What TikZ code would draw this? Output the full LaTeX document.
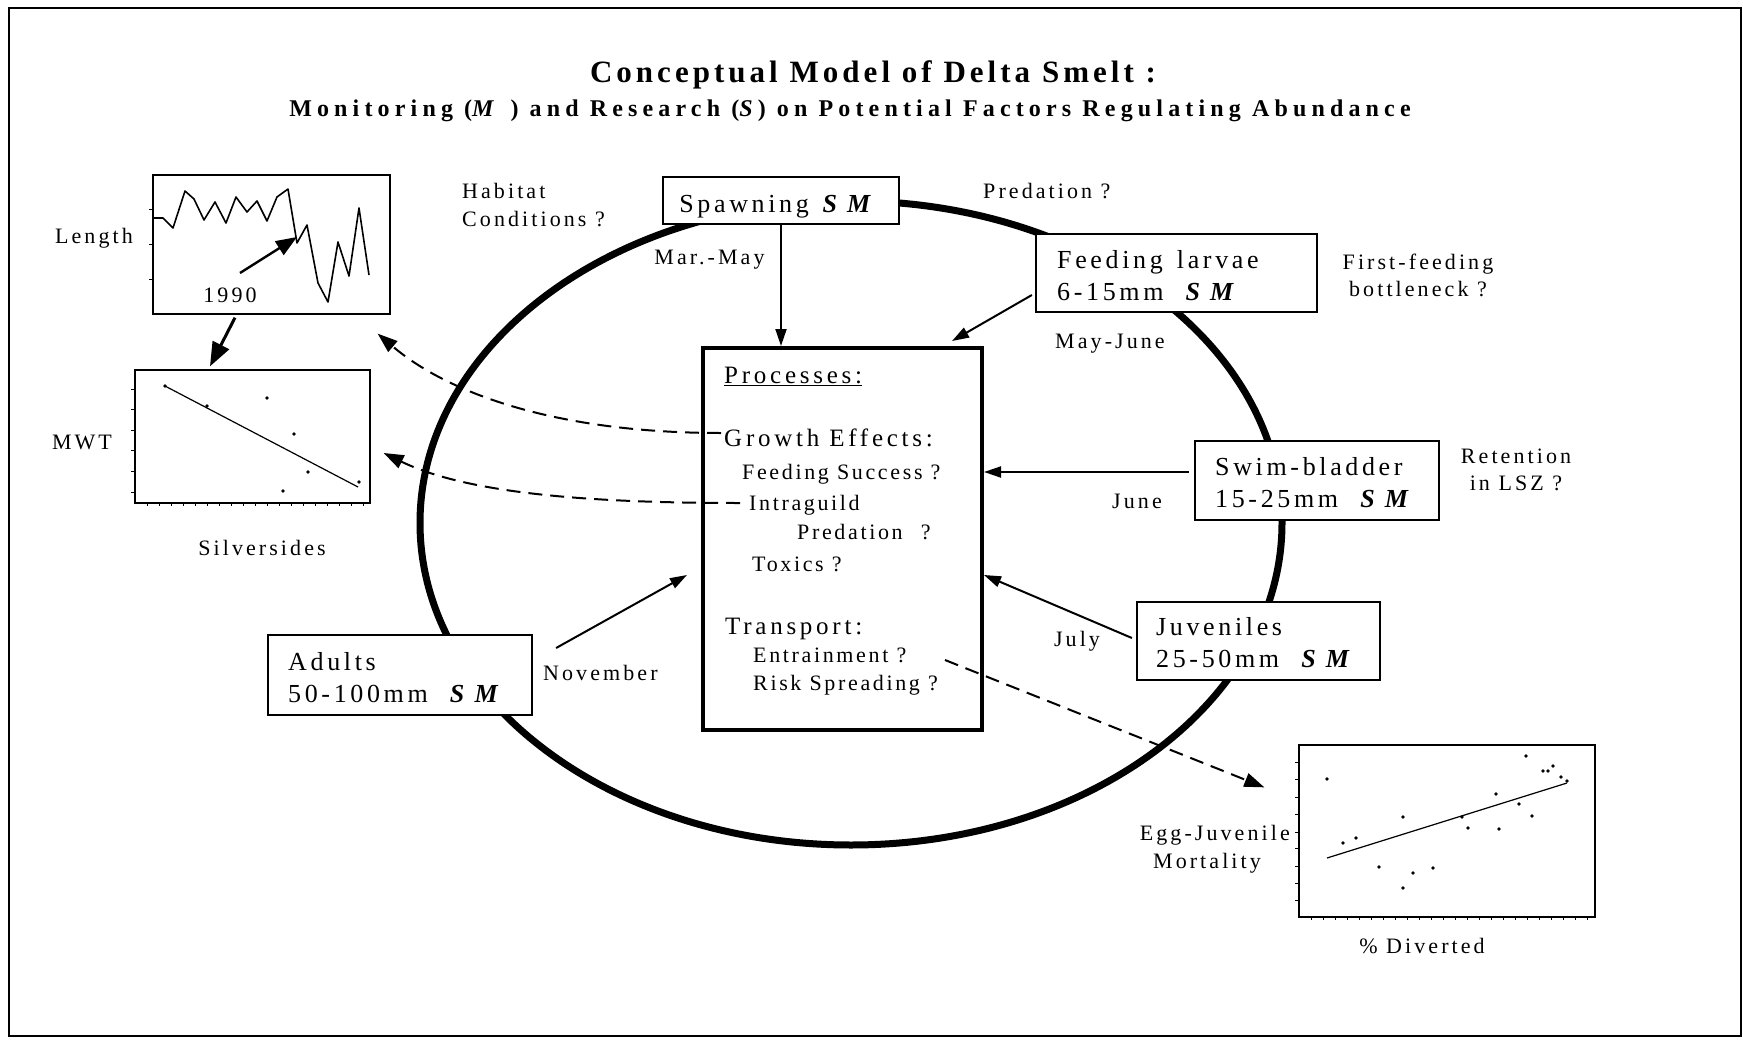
\documentclass[tikz,border=0pt]{standalone}
\usepackage{fontspec}
\setmainfont{Liberation Serif}[Ligatures=NoCommon]
\newfontfamily\fntLab{Liberation Serif}[LetterSpace=14,Ligatures=NoCommon]
\newfontfamily\fntBx{Liberation Serif}[LetterSpace=14,Ligatures=NoCommon]
\newfontfamily\fntHd{Liberation Serif}[LetterSpace=15,Ligatures=NoCommon]
\newfontfamily\fntIt{Liberation Serif}[LetterSpace=12,Ligatures=NoCommon]
\newfontfamily\fntTi{Liberation Serif}[LetterSpace=13,Ligatures=NoCommon]
\newfontfamily\fntSu{Liberation Serif}[LetterSpace=21.5,Ligatures=NoCommon]
\usetikzlibrary{arrows.meta}
\tikzset{
  lab/.style={font=\fntLab\fontsize{22}{26}\selectfont, inner sep=0pt},
  bxt/.style={font=\fntBx\fontsize{26}{30}\selectfont, inner sep=0pt},
  hd/.style={font=\fntHd\fontsize{25}{29}\selectfont, inner sep=0pt},
  itm/.style={font=\fntIt\fontsize{22}{26}\selectfont, inner sep=0pt},
  stage/.style={draw, line width=2.2pt, fill=white, inner sep=0pt},
  chart/.style={draw, line width=1.3pt, inner sep=0pt},
  arr/.style={line width=2pt, -{Triangle[length=17pt,width=11pt]}},
  darr/.style={line width=2pt, dash pattern=on 14pt off 8pt, -{Triangle[length=20pt,width=14pt]}},
  tick/.style={line width=1pt}
}
\begin{document}
\begin{tikzpicture}[x=1pt,y=-1pt]
\useasboundingbox (0,0) rectangle (1743,1041);
% frame
\draw[line width=2pt] (9,8) rectangle (1741,1036);

% title
\node[font=\fntTi\bfseries\fontsize{31}{36}\selectfont, inner sep=0pt, anchor=base] (title) at (873,83) {Conceptual Model of Delta Smelt :};
\node[font=\fntSu\bfseries\fontsize{24}{28}\selectfont, inner sep=0pt, anchor=base] (sub) at (850,116) {Monitoring (\textit{M} ) and Research (\textit{S}) on Potential Factors Regulating Abundance};

% life cycle ellipse
\draw[line width=7pt] (851,523) ellipse [x radius=431pt, y radius=322pt];

% stage boxes
\node[stage, minimum width=236pt, minimum height=47pt] (spawn) at (781,200.5) {};
\node[stage, minimum width=281pt, minimum height=78pt] (feed) at (1176.5,273) {};
\node[stage, minimum width=244pt, minimum height=79pt] (swim) at (1317,480.5) {};
\node[stage, minimum width=243pt, minimum height=78pt] (juv) at (1258.5,641) {};
\node[stage, minimum width=264pt, minimum height=80pt] (adult) at (400,675) {};
\node[stage, line width=4pt, minimum width=279pt, minimum height=382pt] (proc) at (842.5,539) {};

% box texts
\node[bxt, anchor=base] (spt) at (777,212) {Spawning \textbf{\textit{S M}}};
\node[bxt, anchor=base west] (fl1) at (1057,268) {Feeding\hspace{4pt} larvae};
\node[bxt, anchor=base west] (fl2) at (1057,300) {6-15mm\hspace{12pt} \textbf{\textit{S M}}};
\node[bxt, anchor=base west] (sw1) at (1215,475) {Swim-bladder};
\node[bxt, anchor=base west] (sw2) at (1215,507) {15-25mm\hspace{12pt} \textbf{\textit{S M}}};
\node[bxt, anchor=base west] (jv1) at (1156,635) {Juveniles};
\node[bxt, anchor=base west] (jv2) at (1156,667) {25-50mm\hspace{12pt} \textbf{\textit{S M}}};
\node[bxt, anchor=base west] (ad1) at (288,670) {Adults};
\node[bxt, anchor=base west] (ad2) at (288,702) {50-100mm\hspace{12pt} \textbf{\textit{S M}}};

% process texts
\node[hd, anchor=base west] (p0) at (724,383) {\underline{Processes:}};
\node[hd, anchor=base west] (p1) at (724,446) {Growth Effects:};
\node[itm, anchor=base west] (p2) at (742,479) {Feeding Success ?};
\node[itm, anchor=base west] (p3) at (749,510) {Intraguild};
\node[itm, anchor=base west] (p4) at (797,539) {Predation\hspace{10pt} ?};
\node[itm, anchor=base west] (p5) at (752,571) {Toxics ?};
\node[hd, anchor=base west] (p6) at (725,634) {Transport:};
\node[itm, anchor=base west] (p7) at (753,662) {Entrainment ?};
\node[itm, anchor=base west] (p8) at (753,690) {Risk Spreading ?};

% labels
\node[lab, anchor=base west] (hab1) at (462,198) {Habitat};
\node[lab, anchor=base west] (hab2) at (462,226) {Conditions ?};
\node[lab, anchor=base west] (pred) at (983,198) {Predation ?};
\node[lab, anchor=base] (ff1) at (1418,269) {First-feeding};
\node[lab, anchor=base] (ff2) at (1418,296) {bottleneck ?};
\node[lab, anchor=base west] (mj) at (1055,348) {May-June};
\node[lab, anchor=base] (mm) at (709.5,264) {Mar.-May};
\node[lab, anchor=base] (ret1) at (1516,463) {Retention};
\node[lab, anchor=base] (ret2) at (1516,490) {in LSZ ?};
\node[lab, anchor=base] (june) at (1137,508) {June};
\node[lab, anchor=base] (july) at (1077,646) {July};
\node[lab, anchor=base west] (nov) at (543,680) {November};

% stage arrows
\draw[arr] (spawn.south) -- (spawn.south |- proc.north);
\draw[arr] ([xshift=-3pt,yshift=-22pt]feed.west) -- ([xshift=-32pt,yshift=5pt]proc.north east);
\coordinate (swA) at ([xshift=-5pt,yshift=8.5pt]swim.west);
\draw[arr] (swA) -- (proc.east |- swA);
\draw[arr] ([xshift=-4pt,yshift=3pt]juv.west) -- ([yshift=-36pt]proc.east);
\draw[arr] ([xshift=23pt,yshift=27pt]adult.east) -- ([xshift=-14pt,yshift=-36pt]proc.west);

% Length chart
\node[chart, minimum width=237pt, minimum height=139pt] (len) at (271.5,244.5) {};
\draw[line width=1.6pt, line join=round] (153,218) -- (163,218) -- (173,228) -- (185,191) -- (194,199) -- (204,220) -- (215,202) -- (226,223) -- (236,197) -- (247,212) -- (257,201) -- (267,221) -- (277,197) -- (288,189) -- (297,243) -- (307,225) -- (318,283) -- (328,302) -- (338,242) -- (349,276) -- (359,208) -- (369,275);
\foreach \yy in {209,244,279} \draw[tick] (149,\yy) -- (153,\yy);
\node[lab, anchor=base] (lenl) at (94,243) {Length};
\node[lab, anchor=base] (y90) at (230,302) {1990};
\coordinate (a90) at (240,273);
\coordinate (b90) at (297,237);
\draw[line width=2.4pt, -{Triangle[length=21pt,width=16pt]}] (a90) -- (b90);

% MWT chart
\node[chart, minimum width=235pt, minimum height=133pt] (mwt) at (252.5,436.5) {};
\foreach \yy in {389,409,430,450,471,492} \draw[tick] (131,\yy) -- (135,\yy);
\foreach \xx in {147,159,...,363} \draw[tick] (\xx,503) -- (\xx,506);
\draw[line width=1.2pt] (165,386) -- (358,487);
\foreach \p in {(165,386),(207,406),(267,398),(294,434),(308,472),(283,491),(359,482)}
  \fill \p circle[radius=1.8pt];
\node[lab, anchor=base] (mwtl) at (82,449) {M\hspace{3pt}W\hspace{3pt}T};
\node[lab, anchor=base] (silv) at (262,555) {Silversides};
\draw[line width=3pt, -{Triangle[length=24pt,width=18pt]}] ([xshift=-36.5pt,yshift=-3pt]len.south) -- ([xshift=-42.5pt,yshift=3pt]mwt.north);

% Egg-juvenile chart
\node[chart, minimum width=296pt, minimum height=172pt] (egg) at (1447,831) {};
\foreach \yy in {762,779,797,814,832,848,866,883,900} \draw[tick] (1295,\yy) -- (1299,\yy);
\foreach \xx in {1311,1323,...,1590} \draw[tick] (\xx,917) -- (\xx,920);
\draw[line width=1.2pt] (1327,858) -- (1567,783);
\foreach \p in {(1327,779),(1343,843),(1356,838),(1379,867),(1403,817),(1403,888),(1413,873),(1433,868),(1462,817),(1468,828),(1496,794),(1499,829),(1519,804),(1526,756),(1532,816),(1543,771),(1548,771),(1553,766),(1561,777),(1567,781)}
  \fill \p circle[radius=1.8pt];
\node[lab, anchor=base east] (egg1) at (1290,840) {Egg-Juvenile};
\node[lab, anchor=base] (egg2) at (1207,868) {Mortality};
\node[lab, anchor=base] (div) at (1422,953) {\% Diverted};

% dashed influence arrows
\coordinate (gS) at (721,433);
\coordinate (iS) at (740,503);
\coordinate (eS) at (945,660);
\draw[darr] (gS) .. controls (560,433) and (450,395) .. ([xshift=-13pt,yshift=-19pt]len.south east);
\draw[darr] (iS) .. controls (600,503) and (470,495) .. ([xshift=13pt,yshift=-16.5pt]mwt.east);
\draw[darr] (eS) -- ([xshift=-34pt,yshift=-43pt]egg.north west);
\end{tikzpicture}
\end{document}
